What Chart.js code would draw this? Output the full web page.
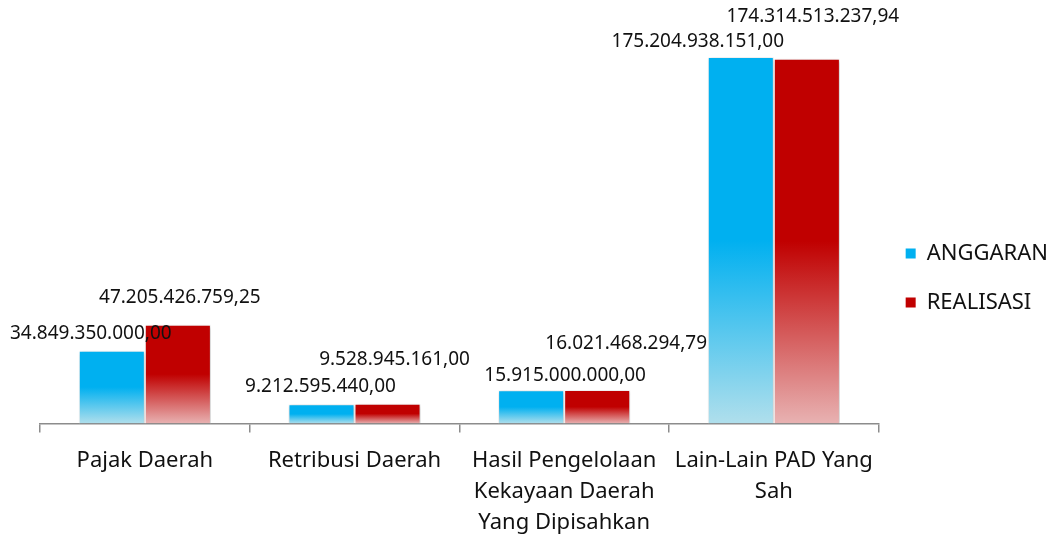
<!DOCTYPE html>
<html>
<head>
<meta charset="utf-8">
<script src="https://cdn.jsdelivr.net/npm/chart.js@4"></script>
<style>
  html, body { margin: 0; padding: 0; background: #fff; }
  #wrap { width: 1058px; height: 538px; }
</style>
</head>
<body>
<div id="wrap"><canvas id="myChart"></canvas></div>
<script>
var categories = [
    ['Pajak Daerah'],
    ['Retribusi Daerah'],
    ['Hasil Pengelolaan', 'Kekayaan Daerah', 'Yang Dipisahkan'],
    ['Lain-Lain PAD Yang', 'Sah']
];
var anggaran = [34849350000.00, 9212595440.00, 15915000000.00, 175204938151.00];
var realisasi = [47205426759.25, 9528945161.00, 16021468294.79, 174314513237.94];

// label nudges (px) relative to the top centre of each bar, like dragged Excel labels
var labelShift = [
    [[-21, -17], [-1, -18], [34, -15], [-43, -15]],
    [[2, -27], [7, -44], [29, -46], [6, -42]]
];

function fmt(v) {
    var parts = v.toFixed(2).split('.');
    return parts[0].replace(/\B(?=(\d{3})+(?!\d))/g, '.') + ',' + parts[1];
}

function barGradient(top, light) {
    return function (context) {
        var chart = context.chart;
        if (!chart.chartArea || context.dataIndex === undefined) return top;
        var y = chart.scales.y;
        var v = context.dataset.data[context.dataIndex];
        var y0 = y.getPixelForValue(v);
        var y1 = y.getPixelForValue(0);
        if (!isFinite(y0) || !isFinite(y1) || y1 - y0 < 1) return top;
        var g = chart.ctx.createLinearGradient(0, y0, 0, y1);
        g.addColorStop(0, top);
        g.addColorStop(0.5, top);
        g.addColorStop(1, light);
        return g;
    };
}

var valueLabels = {
    id: 'valueLabels',
    afterDatasetsDraw: function (chart) {
        var ctx = chart.ctx;
        ctx.save();
        ctx.font = '19px "Noto Sans"';
        ctx.fillStyle = '#111';
        ctx.textAlign = 'center';
        ctx.textBaseline = 'middle';
        chart.data.datasets.forEach(function (ds, di) {
            var meta = chart.getDatasetMeta(di);
            meta.data.forEach(function (bar, i) {
                var s = labelShift[di][i];
                ctx.fillText(fmt(ds.data[i]), bar.x + s[0], bar.y + s[1]);
            });
        });
        ctx.restore();
    }
};

var barShadow = {
    id: 'barShadow',
    beforeDatasetsDraw: function (chart) {
        chart.ctx.save();
        chart.ctx.shadowColor = 'rgba(0,0,0,0.25)';
        chart.ctx.shadowBlur = 4;
        chart.ctx.shadowOffsetX = 1;
        chart.ctx.shadowOffsetY = 1;
    },
    afterDatasetsDraw: function (chart) {
        chart.ctx.restore();
    }
};

var ctx = document.getElementById('myChart').getContext('2d');
var myChart = new Chart(ctx, {
    type: 'bar',
    data: {
        labels: categories,
        datasets: [{
            label: 'ANGGARAN',
            data: anggaran,
            backgroundColor: barGradient('#00B0F0', '#B0DFEC'),
            borderColor: '#ffffff',
            borderWidth: 1
        }, {
            label: 'REALISASI',
            data: realisasi,
            backgroundColor: barGradient('#C00000', '#E8B2B2'),
            borderColor: '#ffffff',
            borderWidth: 1
        }]
    },
    options: {
        responsive: true,
        maintainAspectRatio: false,
        animation: false,
        layout: {
            padding: { left: 40, top: 5, right: 0, bottom: -13 }
        },
        datasets: {
            bar: {
                categoryPercentage: 0.63,
                barPercentage: 1.0
            }
        },
        scales: {
            x: {
                grid: {
                    display: true,
                    drawOnChartArea: false,
                    drawTicks: true,
                    tickLength: 9,
                    color: '#8c8c8c',
                    lineWidth: 1.5
                },
                border: { display: true, color: '#8c8c8c', width: 1.5 },
                ticks: {
                    color: '#111',
                    font: { family: '"Noto Sans"', size: 22, lineHeight: 1.4 },
                    padding: 13,
                    maxRotation: 0,
                    autoSkip: false
                }
            },
            y: {
                display: false,
                min: 0,
                max: 200000000000
            }
        },
        plugins: {
            legend: {
                position: 'right',
                labels: {
                    boxWidth: 10,
                    boxHeight: 10,
                    padding: 27,
                    color: '#111',
                    font: { family: '"Noto Sans"', size: 22 },
                    generateLabels: function (chart) {
                        var cols = ['#00B0F0', '#C00000'];
                        return chart.data.datasets.map(function (ds, i) {
                            return {
                                text: ds.label,
                                fillStyle: cols[i],
                                strokeStyle: cols[i],
                                lineWidth: 0,
                                datasetIndex: i,
                                fontColor: '#111'
                            };
                        });
                    }
                }
            },
            tooltip: { enabled: false }
        }
    },
    plugins: [barShadow, valueLabels]
});
</script>
</body>
</html>
